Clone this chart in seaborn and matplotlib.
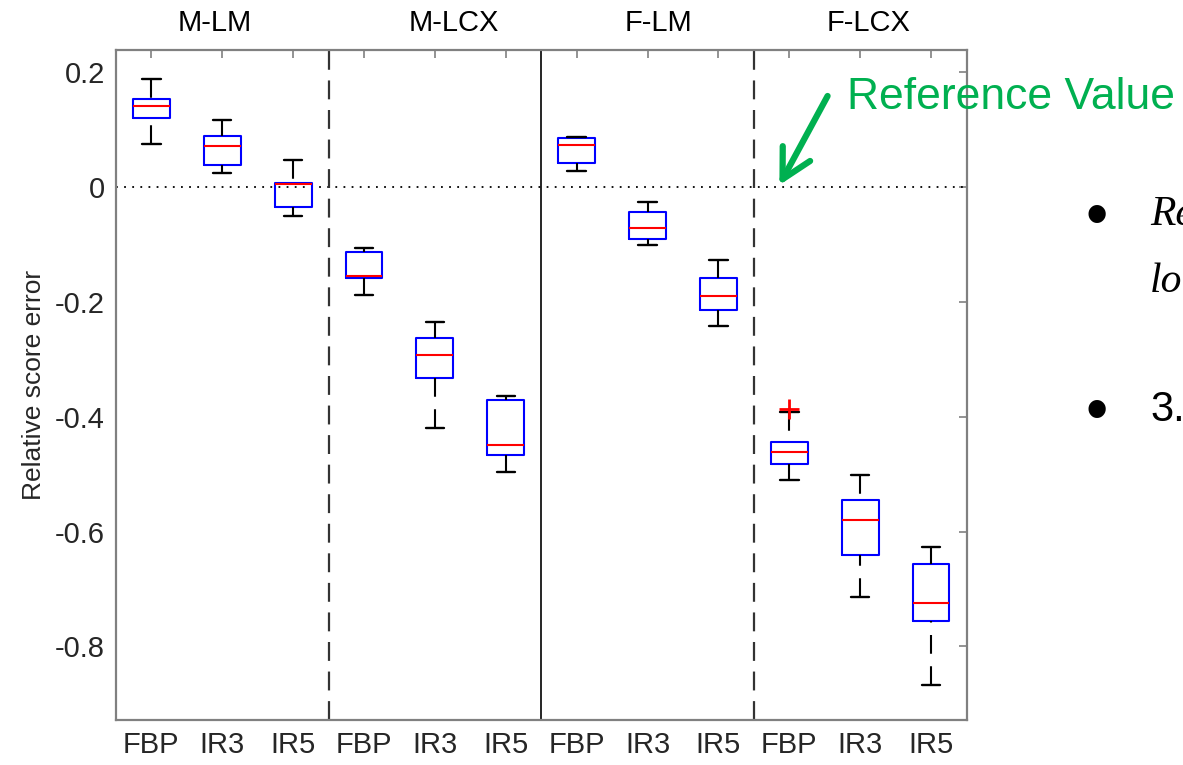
import numpy as np
import pandas as pd
import matplotlib
matplotlib.use("Agg")
import matplotlib.pyplot as plt
import matplotlib.transforms as mtransforms
import seaborn as sns

# ------------------------------------------------------------
# Data
# ------------------------------------------------------------
groups = ["M-LM", "M-LCX", "F-LM", "F-LCX"]
recons = ["FBP", "IR3", "IR5"]

# one entry per box, in plotting order (group x recon)
whisk_hi = [0.187, 0.116, 0.046, -0.107, -0.236, -0.364, 0.087, -0.027, -0.127, -0.392, -0.501, -0.627]
q3 = [0.153, 0.088, 0.007, -0.114, -0.264, -0.371, 0.085, -0.044, -0.158, -0.445, -0.545, -0.656]
median = [0.140, 0.071, 0.005, -0.155, -0.292, -0.449, 0.073, -0.072, -0.190, -0.462, -0.580, -0.725]
q1 = [0.119, 0.038, -0.036, -0.158, -0.333, -0.467, 0.041, -0.091, -0.215, -0.482, -0.641, -0.756]
whisk_lo = [0.075, 0.024, -0.051, -0.188, -0.420, -0.497, 0.028, -0.101, -0.242, -0.511, -0.714, -0.867]

outlier_box = ["F-LCX FBP"]
outlier_val = [-0.386]

yticks = [-0.8, -0.6, -0.4, -0.2, 0.0, 0.2]
ytick_labels = ["-0.8", "-0.6", "-0.4", "-0.2", "0", "0.2"]

# ------------------------------------------------------------
# Build long table so seaborn reproduces the five-number summaries
# ------------------------------------------------------------
keys = [f"{g} {r}" for g in groups for r in recons]
rows = []
for k, lo, a, m, b, hi in zip(keys, whisk_lo, q1, median, q3, whisk_hi):
    for v in (lo, a, m, b, hi):
        rows.append({"box": k, "value": v})
df = pd.DataFrame(rows)
df_out = pd.DataFrame({"box": outlier_box, "value": outlier_val})

sns.set_style("white")
plt.rcParams["font.family"] = ["Liberation Sans", "DejaVu Sans"]

fig = plt.figure(figsize=(11.83, 7.65), dpi=100)
ax = fig.add_axes([0.098, 0.0588, 0.719, 0.8758])

gray = "#808080"
txt = "#262626"

# reference lines first so boxes sit on top
ax.axhline(0, color="black", lw=1.3, ls=(0, (1, 3.5)), zorder=1)
ax.axvline(2.5, color="#333333", lw=1.6, ls=(0, (8.5, 4.8)), zorder=1)
ax.axvline(5.5, color="black", lw=1.2, zorder=1)
ax.axvline(8.5, color="#333333", lw=1.6, ls=(0, (8.5, 4.8)), zorder=1)

sns.boxplot(
    data=df, x="box", y="value", order=keys,
    width=0.52, fill=False, color="blue", linewidth=1.5,
    whis=1.5, showfliers=False,
    boxprops=dict(color="blue"),
    medianprops=dict(color="red", linewidth=1.5),
    whiskerprops=dict(color="black", linewidth=1.5, linestyle=(0, (9, 6))),
    capprops=dict(color="black", linewidth=1.7),
    ax=ax,
)

# MATLAB draws the dashed whisker starting from the cap end
for ln in ax.lines:
    x, y = ln.get_data()
    if len(x) == 2 and ln.get_linestyle() == "--" and x[0] == x[1] and ln.get_color() == "black":
        ln.set_data(x[::-1], y[::-1])

sns.stripplot(
    data=df_out, x="box", y="value", order=keys,
    jitter=False, marker="+", color="red", size=14, linewidth=2, ax=ax,
)

ax.set_xlim(-0.5, len(keys) - 0.5)
ax.set_ylim(-0.928, 0.238)
ax.set_xticks(range(len(keys)))
ax.set_xticklabels([k.split(" ")[1] for k in keys])
ax.set_yticks(yticks)
ax.set_yticklabels(ytick_labels)
ax.set_xlabel("")
ax.set_ylabel("Relative score error", fontsize=19, color=txt, labelpad=6)

for sp in ax.spines.values():
    sp.set_visible(True)
    sp.set_color(gray)
    sp.set_linewidth(1.6)
ax.tick_params(direction="in", length=6, width=1.2, color=gray,
               top=True, right=True, labelsize=21, labelcolor=txt, pad=8)

# group titles above the axes
trans = mtransforms.blended_transform_factory(ax.transData, ax.transAxes)
title_x = [0.89, 4.26, 7.15, 10.12]
for g, xp in zip(groups, title_x):
    ax.text(xp, 1.04, g, transform=trans, ha="center", va="center",
            fontsize=21, color="black")

# "Reference Value" annotation
green = "#00B050"
ax.annotate("", xy=(8.86, 0.003), xytext=(9.54, 0.158),
            arrowprops=dict(arrowstyle="->,head_length=1.05,head_width=0.56",
                            mutation_scale=20, color=green, lw=4.5,
                            shrinkA=0, shrinkB=0),
            annotation_clip=False)
ax.text(9.82, 0.155, "Reference Value", color=green, fontsize=32,
        ha="left", va="center", clip_on=False)

# slide text cut off at the right edge (as in the source slide)
serif = ["Liberation Serif", "DejaVu Serif"]
for yp in (219, 414):
    fig.text(1097 / 1183, 1 - yp / 765, "\u2022", fontsize=46, color="black",
             ha="center", va="center")
fig.text(1150 / 1183, 1 - 215 / 765, "Re", fontsize=30, style="italic",
         family=serif, color="black", ha="left", va="center")
fig.text(1150 / 1183, 1 - 282 / 765, "lo", fontsize=30, style="italic",
         family=serif, color="black", ha="left", va="center")
fig.text(1150 / 1183, 1 - 410 / 765, "3.", fontsize=30, color="black",
         ha="left", va="center")

fig.savefig("out.png", dpi=100)
